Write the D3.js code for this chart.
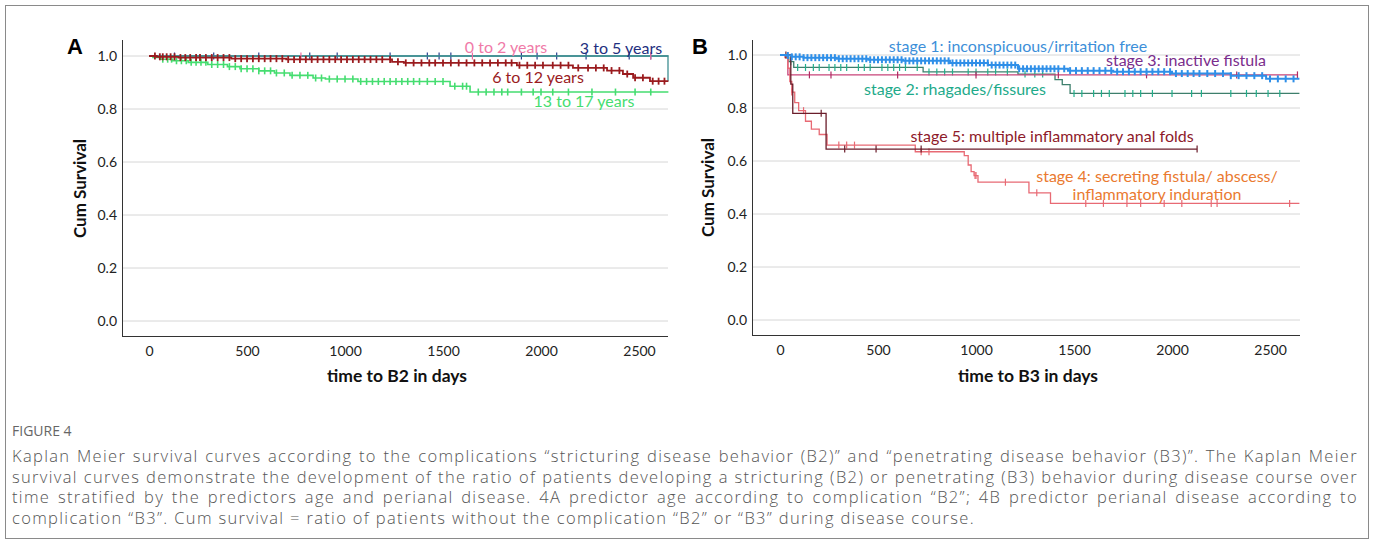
<!DOCTYPE html>
<html>
<head>
<meta charset="utf-8">
<script src="https://cdn.jsdelivr.net/npm/d3@7"></script>
<style>
  body { margin: 0; background: #fff; }
  svg { display: block; }
</style>
</head>
<body>
<svg id="fig" width="1375" height="544"></svg>
<script>
// AXIS TICKS
yTicks = [0.0, 0.2, 0.4, 0.6, 0.8, 1.0]
xTicks = [0, 500, 1000, 1500, 2000, 2500]

// PANEL A: AGE GROUPS (steps = [day, cum survival])
age0to2Steps = [[0,1],[2650,1]]
age0to2Censor = [775, 1650, 2560]

age3to5Steps = [[0,1],[2645,1],[2648,0.905]]
age3to5Censor = [130, 330, 560, 820, 960, 1230, 1420, 1480, 1540, 1900, 1980, 2080, 2230, 2450, 2560]

age6to12Steps = [[0,1],[40,0.997],[150,0.994],[420,0.99],[700,0.987],[1240,0.978],[1300,0.974],[1877,0.965],[2163,0.955],[2337,0.945],[2418,0.932],[2470,0.918],[2556,0.905],[2650,0.905]]
age6to12Censor = [30, 55, 70, 90, 110, 130, 160, 185, 210, 240, 260, 290, 320, 350, 380, 410, 440, 470, 500, 530, 560, 590, 620, 650, 680, 710, 740, 770, 800, 830, 860, 890, 920, 950, 980, 1010, 1040, 1070, 1100, 1130, 1160, 1190, 1230, 1270, 1310, 1350, 1390, 1430, 1460, 1500, 1540, 1580, 1620, 1660, 1700, 1740, 1780, 1820, 1850, 1890, 1930, 1970, 2010, 2060, 2100, 2140, 2190, 2240, 2280, 2320, 2360, 2400, 2440, 2480, 2520, 2570, 2600, 2630]

age13to17Steps = [[0,1],[20,0.995],[60,0.988],[120,0.982],[200,0.976],[300,0.968],[400,0.96],[464,0.952],[560,0.944],[640,0.936],[719,0.927],[837,0.917],[900,0.913],[1066,0.904],[1536,0.886],[1638,0.864],[2650,0.864]]
age13to17Censor = [70, 95, 115, 140, 165, 190, 215, 240, 265, 290, 320, 350, 380, 410, 440, 470, 500, 530, 560, 590, 620, 650, 690, 730, 770, 810, 850, 880, 920, 960, 1000, 1040, 1080, 1110, 1140, 1170, 1200, 1230, 1260, 1290, 1320, 1350, 1380, 1420, 1460, 1500, 1560, 1600, 1620, 1680, 1720, 1760, 1800, 1830, 1900, 1960, 2000, 2060, 2140, 2260, 2380, 2480, 2560]

// PANEL B: PERIANAL STAGES
stage1Steps = [[0,1],[30,0.998],[60,0.993],[120,0.99],[290,0.986],[450,0.982],[628,0.978],[867,0.97],[1061,0.962],[1214,0.948],[1469,0.941],[1700,0.937],[2000,0.93],[2300,0.922],[2480,0.91],[2650,0.91]]
stage1Censor = [40, 60, 80, 100, 120, 140, 160, 180, 200, 220, 240, 260, 280, 300, 320, 340, 360, 380, 400, 420, 440, 460, 480, 500, 520, 540, 560, 580, 600, 620, 640, 660, 680, 700, 720, 740, 760, 780, 800, 820, 840, 860, 880, 900, 920, 940, 960, 980, 1000, 1020, 1040, 1060, 1080, 1100, 1120, 1140, 1160, 1180, 1200, 1220, 1240, 1260, 1280, 1300, 1320, 1340, 1360, 1380, 1400, 1420, 1450, 1480, 1510, 1540, 1570, 1600, 1630, 1660, 1690, 1720, 1750, 1780, 1810, 1840, 1870, 1900, 1930, 1960, 1990, 2020, 2050, 2080, 2110, 2140, 2180, 2220, 2260, 2300, 2340, 2380, 2420, 2460, 2500, 2540, 2580, 2620]

stage2Steps = [[0,1],[30,0.99],[45,0.975],[70,0.953],[730,0.936],[1214,0.928],[1403,0.907],[1440,0.888],[1480,0.855],[2650,0.855]]
stage2Censor = [55, 90, 130, 170, 200, 250, 280, 310, 340, 400, 430, 460, 520, 550, 580, 610, 640, 700, 760, 800, 840, 880, 960, 1000, 1060, 1100, 1160, 1250, 1300, 1340, 1500, 1540, 1600, 1640, 1680, 1760, 1800, 1840, 1900, 2000, 2100, 2150, 2300, 2380, 2430, 2490, 2550]

stage3Steps = [[0,1],[35,1],[40,0.925],[2640,0.925]]
stage3Censor = [150, 260, 600, 1000, 1420, 1870, 2330, 2640]

stage4Steps = [[0,1],[25,0.99],[40,0.95],[50,0.9],[60,0.86],[75,0.82],[95,0.79],[130,0.75],[160,0.72],[200,0.7],[240,0.66],[690,0.635],[940,0.62],[960,0.585],[975,0.56],[990,0.545],[1010,0.52],[1270,0.48],[1380,0.44],[2650,0.44]]
stage4Censor = [60, 120, 300, 340, 380, 720, 760, 995, 1000, 1150, 1310, 1560, 1650, 1770, 1840, 1960, 2050, 2200, 2230, 2600]

stage5Steps = [[0,1],[30,1],[55,0.89],[65,0.78],[235,0.645],[2128,0.645]]
stage5Censor = [30, 210, 330, 490, 720, 2128]

// LABELS
labelsA = ["0 to 2 years", "3 to 5 years", "6 to 12 years", "13 to 17 years"]
labelsB = ["stage 1: inconspicuous/irritation free", "stage 3: inactive fistula", "stage 2: rhagades/fissures", "stage 5: multiple inflammatory anal folds", "stage 4: secreting fistula/ abscess/", "inflammatory induration"]

captionTitle = "FIGURE 4"
captionLines = [
  "Kaplan Meier survival curves according to the complications \u201cstricturing disease behavior (B2)\u201d and \u201cpenetrating disease behavior (B3)\u201d. The Kaplan Meier",
  "survival curves demonstrate the development of the ratio of patients developing a stricturing (B2) or penetrating (B3) behavior during disease course over",
  "time stratified by the predictors age and perianal disease. 4A predictor age according to complication \u201cB2\u201d; 4B predictor perianal disease according to",
  "complication \u201cB3\u201d. Cum survival = ratio of patients without the complication \u201cB2\u201d or \u201cB3\u201d during disease course."
]

svg = d3.select("#fig")
chartFont = "Lato, 'Noto Sans', sans-serif"
capFont = "'Open Sans', 'Noto Sans', sans-serif"

// FRAME
svg.append("rect")
   .attr("x", 5.5).attr("y", 5.5)
   .attr("width", 1363).attr("height", 533)
   .attr("fill", "none")
   .attr("stroke", "#8a8a8a")
   .attr("stroke-width", 1);

// SURVIVAL AT A GIVEN TIME
survAt = function(steps, t) {
  s = steps[0][1];
  steps.forEach(function(p) { if (p[0] <= t) s = p[1]; });
  return s;
}

// DRAW ONE PANEL
drawPanel = function(cfg) {
  x = d3.scaleLinear().domain(cfg.xDomain).range([cfg.left, cfg.right]);
  y = d3.scaleLinear().domain([0, 1]).range([cfg.y0, cfg.y1]);
  g = svg.append("g");

  // GRIDLINES
  g.selectAll(".grid")
    .data(yTicks)
    .enter()
    .append("line")
      .attr("x1", cfg.left).attr("x2", cfg.right)
      .attr("y1", d => y(d)).attr("y2", d => y(d))
      .attr("stroke", "#d6d6d6")
      .attr("stroke-width", 1);

  // Y AXIS
  yAxis = g.append("g")
    .attr("transform", "translate(" + cfg.left + ",0)")
    .call(d3.axisLeft(y).tickValues(yTicks).tickFormat(d3.format(".1f")).tickSize(0).tickPadding(5));
  yAxis.select(".domain").remove();
  yAxis.selectAll("text").attr("font-family", chartFont).attr("font-size", 14).attr("fill", "#222");
  g.append("line")
    .attr("x1", cfg.left + 0.5).attr("x2", cfg.left + 0.5)
    .attr("y1", cfg.top).attr("y2", cfg.bottom)
    .attr("stroke", "#333");

  // X AXIS
  xAxis = g.append("g")
    .attr("transform", "translate(0," + cfg.bottom + ")")
    .call(d3.axisBottom(x).tickValues(xTicks).tickFormat(d3.format("d")).tickSize(0).tickPadding(10));
  xAxis.select(".domain").remove();
  xAxis.selectAll("text").attr("font-family", chartFont).attr("font-size", 14).attr("fill", "#222");
  g.append("line")
    .attr("x1", cfg.left).attr("x2", cfg.right)
    .attr("y1", cfg.bottom + 0.5).attr("y2", cfg.bottom + 0.5)
    .attr("stroke", "#333");

  // AXIS TITLES
  g.append("text")
    .text("Cum Survival")
    .attr("transform", "translate(" + cfg.yTitleX + "," + (y(0.5)) + ") rotate(-90)")
    .attr("text-anchor", "middle")
    .attr("font-family", chartFont).attr("font-weight", "bold")
    .attr("font-size", 17).attr("fill", "#111");
  g.append("text")
    .text(cfg.xTitle)
    .attr("x", (cfg.left + cfg.right) / 2 + 2).attr("y", 382)
    .attr("text-anchor", "middle")
    .attr("font-family", chartFont).attr("font-weight", "bold")
    .attr("font-size", 17.5).attr("fill", "#111");

  // PANEL LETTER
  g.append("text")
    .text(cfg.letter)
    .attr("x", cfg.letterX).attr("y", 54)
    .attr("font-family", "'Liberation Sans', Arial, sans-serif")
    .attr("font-weight", "bold").attr("font-size", 22).attr("fill", "#000");

  // CURVES
  line = d3.line()
    .x(d => x(d[0]))
    .y(d => y(d[1]))
    .curve(d3.curveStepAfter);

  cfg.series.forEach(function(s) {
    g.append("path")
      .datum(s.steps)
      .attr("d", line)
      .attr("fill", "none")
      .attr("stroke", s.lineColor)
      .attr("stroke-width", s.width || 1.3);
    g.selectAll(null)
      .data(s.censor)
      .enter()
      .append("line")
        .attr("x1", d => x(d)).attr("x2", d => x(d))
        .attr("y1", d => y(survAt(s.steps, d)) - 3.5)
        .attr("y2", d => y(survAt(s.steps, d)) + 3.5)
        .attr("stroke", s.markColor)
        .attr("stroke-width", s.markWidth || 1.2);
  });

  // CURVE LABELS
  g.selectAll(".lab")
    .data(cfg.labels)
    .enter()
    .append("text")
      .text(d => d.text)
      .attr("x", d => d.x).attr("y", d => d.y)
      .attr("text-anchor", "middle")
      .attr("font-family", chartFont)
      .attr("font-size", 16)
      .attr("fill", d => d.color);
}

drawPanel({
  letter: "A", letterX: 67,
  xDomain: [-138, 2648], left: 122, right: 668,
  y0: 321, y1: 56, top: 40, bottom: 336, yTitleX: 86,
  xTitle: "time to B2 in days",
  series: [
    {steps: age13to17Steps, censor: age13to17Censor, lineColor: "#45dd70", markColor: "#45dd70", width: 1.6, markWidth: 1.6},
    {steps: age3to5Steps, censor: age3to5Censor, lineColor: "#3f8f92", markColor: "#2a3f8f"},
    {steps: age0to2Steps, censor: age0to2Censor, lineColor: "#3f8f92", markColor: "#f06aa0"},
    {steps: age6to12Steps, censor: age6to12Censor, lineColor: "#9a1b1e", markColor: "#9a1b1e", width: 1.8, markWidth: 1.8}
  ],
  labels: [
    {text: labelsA[0], x: 506, y: 53, color: "#f07aa8"},
    {text: labelsA[1], x: 621, y: 54, color: "#1f2f80"},
    {text: labelsA[2], x: 538, y: 83, color: "#9a1b1e"},
    {text: labelsA[3], x: 584, y: 107, color: "#45dd70"}
  ]
});

drawPanel({
  letter: "B", letterX: 692,
  xDomain: [-143, 2653], left: 752, right: 1300,
  y0: 320, y1: 55, top: 40, bottom: 335, yTitleX: 714,
  xTitle: "time to B3 in days",
  series: [
    {steps: stage2Steps, censor: stage2Censor, lineColor: "#3d7f6c", markColor: "#22b08c"},
    {steps: stage3Steps, censor: stage3Censor, lineColor: "#c8457a", markColor: "#b02a62"},
    {steps: stage4Steps, censor: stage4Censor, lineColor: "#e86a74", markColor: "#e86a74"},
    {steps: stage5Steps, censor: stage5Censor, lineColor: "#6a1d2b", markColor: "#6a1d2b"},
    {steps: stage1Steps, censor: stage1Censor, lineColor: "#2f8fe8", markColor: "#2f8fe8", width: 2, markWidth: 2}
  ],
  labels: [
    {text: labelsB[0], x: 1018, y: 52, color: "#3d8fd9"},
    {text: labelsB[1], x: 1186, y: 66, color: "#7a2d8c"},
    {text: labelsB[2], x: 955, y: 95, color: "#1eaa8a"},
    {text: labelsB[3], x: 1052, y: 142, color: "#8e1a2a"},
    {text: labelsB[4], x: 1157, y: 182, color: "#ea7a30"},
    {text: labelsB[5], x: 1157, y: 200, color: "#ea7a30"}
  ]
});

// CAPTION
svg.append("text")
  .text(captionTitle)
  .attr("x", 12).attr("y", 436)
  .attr("font-family", capFont)
  .attr("font-size", 14).attr("fill", "#666");

capText = svg.selectAll(".cap")
  .data(captionLines)
  .enter()
  .append("text")
    .text(d => d)
    .attr("x", 12)
    .attr("y", (d, i) => 462 + i * 20.5)
    .attr("font-family", capFont)
    .attr("font-weight", 300)
    .attr("font-size", 16.5)
    .attr("fill", "#555");

// match the wide caption face: letter spacing from the last line, word spacing to justify
lastNode = capText.nodes()[captionLines.length - 1];
lastLine = captionLines[captionLines.length - 1];
ls = (963 - lastNode.getComputedTextLength()) / lastLine.length;
capText.attr("letter-spacing", ls);
capText.each(function(d, i) {
  if (i == captionLines.length - 1) return;
  w = this.getComputedTextLength();
  spaces = d.split(" ").length - 1;
  d3.select(this).attr("word-spacing", (1346 - w) / spaces);
});
</script>
</body>
</html>
